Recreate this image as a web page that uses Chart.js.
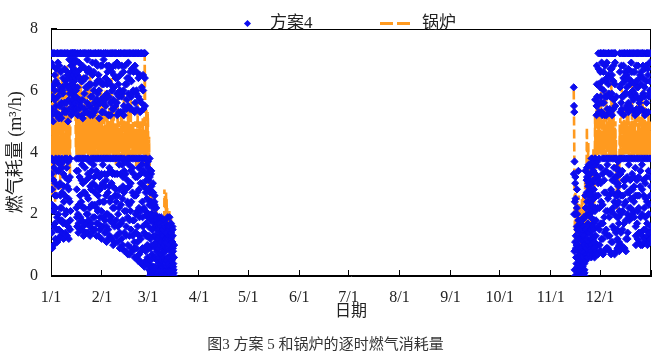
<!DOCTYPE html>
<html><head><meta charset="utf-8">
<script src="https://cdn.jsdelivr.net/npm/chart.js@4.4.1/dist/chart.umd.min.js"></script>
<style>
html,body{margin:0;padding:0;background:#fff;}
#wrap{position:relative;width:657px;height:356px;}
#legend{position:absolute;left:0;top:0;width:657px;height:40px;pointer-events:none;font-family:'Liberation Serif','Noto Sans CJK SC',serif;font-size:17px;color:#222;}
.lg-text{position:absolute;top:12px;line-height:22px;white-space:nowrap;}
.lg-diamond{position:absolute;width:5px;height:5px;transform:rotate(45deg);}
.lg-dash{position:absolute;height:3px;}
</style></head><body>
<div id="wrap"><canvas id="c"></canvas><div id="legend"></div></div>
<script>
// ---- data ----
const monthLabels = ['1/1','2/1','3/1','4/1','5/1','6/1','7/1','8/1','9/1','10/1','11/1','12/1',''];
const monthStartDays = [0,31,59,90,120,151,181,212,243,273,304,334,365];
const schemeHours = [0,4,8,12,16,20,2,6,10,14,18,22];
const boilerHours = [0,4,8,12,16,20];
const seriesNames = ['方案4','锅炉'];
const springStartDay = 0;    // 1/1
const autumnStartDay = 318;  // 11/15

// 方案4 hourly gas use (m3/h), one row per day, values at schemeHours
const schemeSpring = [
[7.2,6.1,5.4,3.8,2.3,0.9,6.9,5.2,3.3,1.4,2.8,7.2],
[6.8,7.2,5.0,3.1,1.6,3.7,5.8,7.2,2.1,1.0,3.5,6.2],
[7.2,5.7,6.5,2.6,1.2,3.8,7.2,6.0,1.7,3.0,2.2,5.3],
[6.3,7.2,5.2,3.4,1.9,1.1,5.5,6.7,2.6,3.7,1.5,7.2],
[7.2,6.9,5.8,2.9,3.8,1.5,6.2,7.2,2.0,3.4,1.2,5.1],
[7.2,6.0,5.5,3.6,2.2,1.3,6.8,5.2,1.8,3.0,2.6,7.2],
[6.6,7.2,5.1,3.8,1.8,2.7,7.2,5.6,2.2,3.5,1.4,6.1],
[7.2,5.9,6.4,3.3,1.2,2.4,6.0,7.2,1.7,3.7,2.9,5.4],
[7.2,6.7,5.3,3.8,2.0,1.4,5.6,7.2,2.6,3.2,1.7,6.3],
[6.2,7.2,5.6,3.5,1.7,2.9,7.2,5.3,2.1,3.8,1.3,6.6],
[7.2,6.5,5.0,3.7,2.5,1.2,6.1,7.2,1.6,3.1,2.8,5.7],
[7.2,7.0,5.9,3.2,1.5,2.1,5.4,6.4,2.4,3.8,1.8,7.2],
[7.2,6.8,6.2,5.6,7.2,6.4,6.0,7.2,5.2,6.6,5.9,7.0],
[7.2,7.2,6.5,5.3,6.9,7.2,6.2,5.7,7.2,6.0,5.5,6.7],
[7.2,6.3,7.2,5.8,6.6,7.0,5.4,7.2,6.1,6.9,5.6,6.4],
[7.2,6.0,5.4,3.8,2.8,1.6,5.8,7.2,2.2,3.4,1.9,6.5],
[7.2,6.6,5.2,3.4,1.4,2.3,6.1,7.2,2.0,3.8,1.7,5.6],
[6.9,7.2,5.7,3.8,2.6,1.9,5.4,6.4,3.2,1.5,2.3,7.2],
[7.2,5.5,6.3,3.1,1.5,3.6,6.7,7.2,2.4,3.8,1.8,5.2],
[7.2,6.8,5.1,3.8,2.2,1.3,5.7,6.3,3.0,1.6,2.7,7.2],
[6.4,7.2,5.9,2.7,3.5,1.7,7.2,5.4,2.2,3.8,1.4,6.7],
[7.2,6.1,5.3,3.8,2.0,1.4,6.4,7.2,3.1,1.7,2.6,5.6],
[7.2,7.0,6.6,3.3,2.5,1.8,5.3,6.1,2.0,3.8,1.4,7.2],
[6.7,7.2,5.5,3.7,1.6,2.9,7.2,6.2,3.2,2.2,1.3,5.2],
[7.2,5.8,6.2,3.8,2.3,1.4,6.6,7.2,2.8,1.7,3.4,5.4],
[7.2,6.5,5.2,3.0,1.9,3.6,5.8,6.9,2.3,3.8,1.5,7.2],
[6.0,7.2,5.6,3.8,2.7,1.5,6.6,5.3,3.2,1.9,2.3,7.2],
[7.2,6.9,5.4,3.4,1.3,2.2,6.2,7.2,2.9,3.8,1.7,5.7],
[7.2,6.3,5.9,3.8,2.6,1.7,5.5,6.8,2.1,3.3,1.3,7.2],
[6.5,7.2,5.1,3.2,1.5,2.8,7.2,6.0,3.8,2.4,1.9,5.6],
[7.2,5.7,6.8,3.8,2.1,1.2,6.3,7.2,2.9,1.6,3.3,5.3],
[7.2,6.2,5.3,3.6,2.4,1.6,6.8,5.6,3.0,1.9,3.8,7.2],
[7.0,7.2,5.8,3.8,1.4,2.9,6.2,5.3,2.4,3.3,1.8,7.2],
[7.2,6.4,5.5,3.1,2.0,1.1,5.7,7.2,2.6,3.8,1.6,6.8],
[7.2,5.9,6.6,3.8,2.7,1.5,6.2,7.2,3.3,2.0,1.2,5.2],
[6.3,7.2,5.2,3.5,1.8,2.4,5.8,6.8,2.9,3.8,1.3,7.2],
[7.2,6.7,5.6,3.8,1.2,3.0,6.2,5.2,2.5,3.4,1.9,7.2],
[7.2,6.0,5.4,2.9,2.2,1.0,6.6,7.2,3.3,1.7,3.8,5.7],
[6.8,7.2,6.1,3.8,1.6,2.6,5.4,6.5,2.2,3.3,1.1,7.2],
[7.2,5.5,6.4,3.3,2.4,1.3,6.8,7.2,2.8,3.8,1.8,5.9],
[7.2,6.9,5.2,3.8,1.1,2.0,5.6,6.4,3.3,2.6,1.6,7.2],
[6.2,7.2,5.8,3.6,2.8,0.9,6.8,5.3,2.2,3.8,1.4,7.2],
[7.2,6.5,5.3,3.8,1.7,1.2,6.0,7.2,3.3,2.3,0.9,5.8],
[7.2,5.9,3.8,2.5,1.0,3.2,6.8,5.3,3.6,1.8,2.9,7.2],
[6.6,7.2,5.5,3.4,1.4,2.1,6.0,5.2,2.7,3.8,0.8,7.2],
[7.2,6.2,3.7,2.8,0.8,1.6,6.8,7.2,3.3,1.3,2.1,5.4],
[7.2,5.7,6.4,3.8,1.9,1.0,6.2,7.2,3.1,2.4,0.7,5.5],
[6.9,7.2,3.6,2.3,1.3,0.7,5.9,6.4,3.8,2.9,1.8,7.2],
[7.2,5.4,3.8,3.0,1.5,2.4,6.6,7.2,2.1,3.4,0.9,5.8],
[6.3,7.2,5.9,3.5,0.8,1.8,5.4,6.7,3.8,2.7,1.3,7.2],
[7.2,6.6,3.8,2.6,1.1,0.6,6.0,7.2,3.3,1.8,0.9,5.3],
[7.2,5.6,3.2,2.0,1.4,0.9,6.8,7.2,3.8,2.6,0.6,5.9],
[6.0,7.2,3.8,2.7,1.6,0.5,6.6,5.4,3.2,2.1,1.1,7.2],
[7.2,6.4,3.5,2.2,0.7,1.9,5.8,7.2,3.8,2.8,1.3,0.5],
[5.7,7.2,3.8,3.0,1.2,0.4,6.5,5.3,3.3,2.1,0.8,7.2],
[7.2,6.1,3.6,2.4,0.9,1.6,5.6,7.2,3.8,3.0,1.9,0.4],
[6.5,7.2,3.8,2.9,1.4,0.3,6.0,5.4,3.4,2.2,0.9,7.2],
[7.2,5.5,3.3,2.1,0.8,1.7,6.4,7.2,3.8,2.7,1.3,0.5],
[3.8,3.1,2.5,1.3,0.4,1.9,3.6,2.8,2.0,1.0,0.6,3.3],
[3.7,2.8,1.6,0.9,0.2,2.3,3.5,3.1,2.0,1.3,0.5,0.0],
[3.8,2.4,1.2,0.5,0.1,3.3,3.2,2.7,1.8,0.9,0.3,2.0],
[3.4,2.0,1.5,0.7,0.0,2.7,2.9,2.4,1.0,0.3,1.8,0.1],
[3.0,2.2,1.0,0.3,0.0,1.7,2.7,1.9,1.3,0.6,0.1,2.4],
[2.6,1.8,1.3,0.6,0.1,0.9,2.3,2.0,1.6,0.3,0.0,1.1],
[2.2,1.5,0.8,0.2,0.0,1.1,1.9,1.8,1.2,0.5,0.1,0.9],
[1.9,1.2,0.6,0.1,0.0,1.6,1.7,1.5,0.9,0.3,0.2,1.3],
[1.7,1.0,0.4,0.0,0.2,1.4,1.9,1.4,0.7,0.2,0.0,1.1],
[1.9,1.3,0.7,0.1,0.0,0.9,1.6,1.1,0.5,0.3,0.0,1.4],
[1.5,0.8,0.3,0.0,0.1,1.2,1.8,1.3,0.6,0.2,0.0,1.0],
[1.8,1.1,0.5,0.0,0.2,1.6,1.6,1.2,0.8,0.3,0.0,1.4],
[1.4,0.9,0.2,0.0,0.1,0.6,1.7,1.2,0.5,0.3,0.0,1.1],
[1.9,1.2,0.6,0.1,0.0,1.5,1.6,0.9,0.4,0.2,0.0,1.3],
[1.6,1.0,0.3,0.0,0.1,0.8,1.9,1.3,0.6,0.2,0.0,1.2],
[1.7,1.3,0.5,0.0,0.2,1.1,1.4,0.9,0.7,0.3,0.0,1.6],
[1.5,0.9,0.3,0.0,0.1,0.6,1.3,0.8,0.4,0.2,0.0,1.0]
];
const schemeAutumn = [
[6.1,5.5,5.3,3.7,2.4,1.1,3.3,2.0,0.8,0.2,0.0,3.0],
[3.2,2.0,0.9,0.0,0.4,1.6,2.5,1.3,0.6,0.2,1.0,2.2],
[2.8,1.5,0.6,0.0,0.2,3.4,2.0,1.0,0.3,0.0,0.8,1.8],
[1.8,1.2,0.4,0.0,0.7,1.5,1.5,0.9,0.2,0.1,0.5,1.7],
[1.7,0.9,0.3,0.1,0.0,1.3,1.4,0.7,0.2,0.0,0.6,1.8],
[1.8,1.1,0.5,0.0,0.2,0.8,1.5,0.8,0.3,0.1,0.6,1.6],
[1.6,1.3,0.6,0.2,0.0,1.0,1.9,1.0,0.4,0.1,0.8,1.5],
[2.6,1.9,1.2,0.5,0.9,3.1,3.4,2.2,1.5,0.7,0.6,2.7],
[3.5,2.4,1.4,0.7,1.0,2.9,3.2,2.0,1.2,0.6,1.7,3.0],
[3.3,2.2,1.6,0.8,1.1,2.7,3.6,2.6,1.4,0.7,2.0,3.1],
[3.6,2.8,1.9,1.0,0.6,2.3,3.3,2.4,1.5,0.8,1.2,3.8],
[3.8,3.0,2.1,1.3,0.7,1.7,3.5,2.6,1.6,0.9,1.2,3.1],
[3.4,2.5,1.5,0.9,0.6,3.8,3.7,2.8,1.8,1.1,0.7,2.1],
[5.7,3.8,2.6,1.8,0.8,5.2,3.3,2.2,1.3,0.7,3.6,5.5],
[6.8,5.5,3.7,2.2,1.0,3.0,6.2,5.8,3.2,1.6,0.7,2.6],
[7.2,6.2,5.3,3.8,1.5,0.8,6.7,5.6,3.1,2.2,1.0,7.2],
[7.2,6.6,5.8,3.5,2.4,1.2,6.1,7.2,3.0,1.7,0.8,5.3],
[6.9,7.2,5.2,3.8,1.7,0.7,5.6,6.3,3.3,2.3,1.2,7.2],
[7.2,6.0,5.6,3.1,2.7,1.4,6.6,7.2,3.8,1.9,0.8,5.2],
[7.2,6.8,6.3,3.8,2.1,0.9,5.8,7.2,2.7,3.4,1.5,5.2],
[6.4,7.2,5.4,3.6,1.3,2.5,6.9,5.8,3.8,2.1,0.9,7.2],
[7.2,6.5,5.9,3.8,1.9,0.8,6.2,7.2,2.6,3.3,1.3,5.4],
[7.2,5.8,6.7,3.3,2.8,1.1,6.4,5.3,3.8,2.1,0.7,7.2],
[6.7,7.2,5.2,3.8,1.6,2.2,5.9,6.5,3.1,2.7,1.1,7.2],
[7.2,6.3,5.7,3.5,2.4,0.7,6.8,5.4,3.8,2.0,1.5,7.2],
[7.2,6.9,5.5,3.8,1.4,3.0,6.2,7.2,3.2,2.6,0.8,5.8],
[3.8,3.2,2.3,1.5,0.9,2.7,3.5,2.6,1.9,1.2,0.9,3.0],
[3.7,2.9,1.9,1.1,0.8,3.4,3.4,2.4,1.7,1.0,3.8,2.1],
[7.2,6.1,5.3,3.8,2.0,1.0,6.6,7.2,3.3,2.6,1.4,5.6],
[6.8,7.2,5.8,3.4,1.5,2.6,6.2,5.4,3.8,2.1,0.9,7.2],
[7.2,6.4,5.2,3.8,2.3,0.9,5.8,6.8,3.1,1.7,2.9,7.2],
[7.2,5.9,6.6,3.1,1.8,1.2,6.3,7.2,3.8,2.4,0.8,5.4],
[6.5,7.2,5.5,3.8,2.7,1.4,5.9,6.1,3.2,2.0,1.2,7.2],
[7.2,6.7,5.3,3.6,2.2,1.8,6.4,5.6,3.8,2.7,1.9,7.2],
[7.2,6.2,5.9,3.8,2.5,1.9,5.5,7.2,3.1,2.2,2.8,6.6],
[6.9,7.2,5.4,3.3,2.0,2.8,6.3,5.8,3.8,2.5,1.9,7.2],
[7.2,6.0,5.7,3.8,2.4,1.9,6.6,7.2,3.2,2.1,2.9,5.3],
[7.2,6.6,5.2,3.5,1.6,1.0,5.9,6.2,3.8,2.6,1.3,7.2],
[6.3,7.2,5.8,3.8,2.1,1.2,6.8,5.4,3.1,1.7,2.6,7.2],
[7.2,6.8,5.3,3.2,1.4,2.6,6.1,7.2,3.8,2.2,1.1,5.6],
[7.2,5.7,6.5,3.8,1.9,1.0,5.4,6.4,2.9,3.4,1.4,7.2],
[6.6,7.2,5.4,3.6,2.8,1.3,6.2,5.8,3.8,2.0,1.0,7.2],
[7.2,6.4,5.9,3.8,1.5,2.2,6.8,7.2,3.1,2.6,1.2,5.3],
[7.2,6.1,5.2,3.0,1.1,2.5,5.8,6.7,3.8,1.9,1.5,7.2],
[6.8,7.2,5.6,3.8,1.7,1.0,6.3,5.3,3.2,2.4,1.3,7.2],
[7.2,6.5,5.3,3.4,2.3,1.4,6.7,7.2,3.8,2.0,1.1,5.8],
[7.2,6.9,6.0,3.8,1.2,2.9,5.9,6.3,3.2,2.6,1.6,7.2]
];
// 锅炉 hourly gas use (m3/h), values at boilerHours
const boilerSpring = [
[4.9,4.1,5.6,3.9,2.6,4.6],[4.4,6.3,4.0,3.2,4.8,4.2],[5.0,4.3,3.9,2.4,4.5,4.1],[4.7,6.0,4.2,3.8,5.1,4.0],
[4.5,4.0,6.6,4.3,3.9,4.9],[4.1,5.0,4.4,3.9,2.8,4.6],[5.2,4.2,4.8,3.9,6.4,4.3],[4.0,4.7,4.1,5.0,3.5,4.4],
[4.8,5.9,4.0,4.5,3.9,5.1],[4.2,4.6,3.9,6.8,4.1,4.7],[5.0,4.0,4.4,3.9,5.5,4.2],[4.3,4.9,4.0,3.3,4.6,5.4],
[6.4,5.6,7.0,5.9,6.7,5.4],[6.1,6.9,5.5,6.5,5.8,7.1],[5.7,6.6,6.0,5.3,6.8,5.9],[4.8,4.1,5.7,3.9,4.5,4.0],
[4.3,4.9,3.9,4.6,6.2,4.1],[5.0,4.0,4.7,3.9,4.4,5.3],[4.2,6.5,4.1,4.8,3.9,4.6],[4.9,4.0,4.5,3.7,5.1,4.3],
[4.1,4.8,3.9,5.8,4.4,4.0],[5.1,4.2,4.6,3.9,4.9,4.1],[4.4,6.1,4.0,4.7,3.8,5.0],[4.0,4.6,4.9,3.9,4.3,6.7],
[4.8,4.1,5.3,4.0,4.6,3.9],[4.5,5.0,3.9,4.4,6.0,4.2],[4.1,4.7,4.0,5.2,3.9,4.8],[5.0,3.9,4.6,4.1,5.6,4.3],
[4.3,5.8,4.0,4.9,3.9,4.5],[4.7,4.1,5.1,3.9,4.4,4.0],[4.2,4.9,3.9,6.3,4.6,4.1],[5.0,4.0,4.5,3.9,4.8,5.5],
[4.1,4.7,4.0,5.1,3.9,4.4],[4.6,6.0,4.2,4.0,4.9,3.8],[4.0,4.5,5.2,3.9,4.3,4.8],[4.9,4.1,4.6,5.7,3.9,4.2],
[4.3,5.0,3.9,4.4,4.0,6.4],[4.7,4.0,4.8,3.9,5.1,4.1],[4.1,5.4,4.0,4.6,3.9,4.9],[5.0,4.2,4.5,3.6,4.7,4.0],
[4.4,4.9,3.9,5.9,4.1,4.6],[4.0,4.6,5.0,3.9,4.3,4.0],[4.8,4.1,4.4,3.8,5.3,4.2],[4.3,5.1,3.9,4.7,4.0,4.5],
[4.9,4.0,6.1,3.9,4.4,4.1],[4.2,4.7,4.0,5.0,3.7,4.6],[4.6,4.0,4.9,3.9,4.2,5.5],[4.0,5.2,4.3,3.8,4.8,4.1],
[4.7,4.1,4.5,6.0,3.9,4.4],[4.3,4.9,3.9,4.6,4.0,5.0],[4.8,4.0,4.4,3.8,4.7,4.1],[4.1,5.0,3.9,4.5,4.2,3.5],
[4.6,4.0,4.8,3.9,5.6,4.2],[4.0,4.7,4.1,3.6,4.4,4.9],[4.5,3.9,5.0,4.1,3.7,4.6],[4.2,4.8,3.9,4.4,4.0,5.1],
[4.7,4.0,4.5,3.5,4.3,3.9],[7.1,6.0,4.8,3.9,4.4,4.1],[5.4,4.6,3.9,4.8,3.6,5.3],[4.9,3.8,3.2,2.6,4.5,3.5],
[3.9,2.8,3.3,2.4,3.0,2.6],[3.0,2.5,2.9,2.2,2.7,2.0],[2.8,2.2,2.6,1.9,2.4,1.7],[2.6,1.9,2.3,1.5,2.1,1.6],
[2.2,1.6,2.0,1.4,1.8,1.2],[1.9,1.4,1.7,1.1,1.5,1.3],[1.7,1.2,1.6,0.9,1.4,1.0],[1.8,1.3,1.5,1.0,1.6,1.1],
[1.6,1.1,1.4,0.8,1.3,0.9],[2.8,2.2,2.6,1.8,1.5,1.2],[2.7,1.9,2.5,1.6,2.2,1.4],[1.9,1.4,1.7,1.0,1.5,1.2],
[2.1,1.5,1.9,1.2,1.7,1.1],[1.9,1.3,1.6,0.9,1.4,0.8],[1.7,1.2,1.4,0.7,1.0,0.4]
];
const boilerAutumn = [
[6.0,5.2,4.1,2.6,1.8,1.2],[2.7,1.9,1.2,0.8,1.5,2.2],[2.4,1.7,1.0,0.6,1.3,2.0],[2.6,1.8,1.1,0.7,1.4,1.9],
[2.3,1.6,1.0,0.5,1.2,2.1],[2.5,1.8,1.2,0.7,1.5,2.7],[2.2,1.6,1.1,0.6,1.3,2.4],[3.2,2.6,1.9,1.3,2.2,3.6],
[4.8,3.9,3.2,2.4,3.5,4.3],[3.8,3.1,2.5,1.8,2.8,3.4],[3.6,2.9,2.2,1.7,2.6,3.3],[3.9,3.2,2.6,2.0,2.9,3.5],
[4.1,3.4,2.8,2.1,3.1,3.8],[5.2,4.3,3.9,3.0,4.6,4.0],[5.6,4.8,4.0,3.9,4.5,5.0],[4.9,4.1,5.7,3.9,4.4,4.0],
[4.3,5.0,3.9,4.6,6.2,4.1],[5.1,4.0,4.7,3.9,4.4,4.9],[4.2,4.8,4.0,5.4,3.9,4.5],[4.9,4.1,4.6,3.9,6.0,4.2],
[4.0,5.0,4.3,3.8,4.7,4.1],[4.6,4.0,5.3,3.9,4.4,5.0],[4.1,4.8,3.9,4.5,4.0,6.5],[5.0,4.2,4.6,3.9,4.9,4.1],
[4.4,5.6,4.0,4.7,3.9,4.5],[4.8,4.1,5.0,3.7,4.4,3.2],[3.0,2.5,3.4,2.1,2.8,3.5],[3.3,2.7,3.6,2.3,3.1,3.9],
[4.9,4.2,5.1,3.9,4.6,4.0],[4.3,6.1,4.0,4.8,3.9,4.5],[5.0,4.1,4.6,3.9,5.5,4.2],[4.2,4.9,3.9,4.4,4.0,5.0],
[4.7,4.0,5.2,3.9,4.5,4.1],[4.4,5.7,4.1,4.8,3.9,4.6],[5.0,4.0,4.5,3.8,4.9,4.2],[4.1,4.7,3.9,6.3,4.3,4.0],
[4.8,4.2,5.0,3.9,4.5,4.1],[4.3,5.1,4.0,4.6,3.9,5.4],[4.9,4.0,4.7,3.9,4.4,4.2],[4.2,5.8,4.1,4.9,3.9,4.6],
[5.0,4.1,4.4,3.9,5.2,4.0],[4.4,4.8,3.9,4.6,4.1,6.0],[4.7,4.0,5.1,3.9,4.3,4.9],[4.1,5.5,4.2,4.8,3.9,4.4],
[5.0,4.0,4.6,3.9,4.9,4.2],[4.3,4.9,4.0,5.3,3.9,4.5],[4.8,4.1,4.7,3.9,4.4,5.0]
];

// ---- build point lists (x = day of year + hour/24) ----
function toPoints(startDay, rows, hours) {
  const pts = [];
  rows.forEach((row, d) => row.forEach((v, k) => pts.push({x: startDay + d + hours[k] / 24, y: v})));
  return pts;
}
const schemePoints = toPoints(springStartDay, schemeSpring, schemeHours)
  .concat(toPoints(autumnStartDay, schemeAutumn, schemeHours));
const springEndDay = springStartDay + boilerSpring.length;
const boilerPoints = toPoints(springStartDay, boilerSpring, boilerHours)
  .concat([{x: (springEndDay + autumnStartDay) / 2, y: null}])
  .concat(toPoints(autumnStartDay, boilerAutumn, boilerHours));

const BLUE = 'rgb(12,12,238)';
const ORANGE = '#FF9A1F';
const SERIF = "'Liberation Serif', 'Noto Sans CJK SC', serif";
Chart.defaults.font.family = SERIF;
Chart.defaults.color = '#222';

const framePlugin = {
  id: 'frame',
  beforeDatasetsDraw(chart) {
    const {ctx, chartArea: a} = chart;
    ctx.save();
    ctx.strokeStyle = '#000';
    ctx.lineWidth = 1;
    ctx.strokeRect(Math.round(a.left) + 0.5, Math.round(a.top) + 0.5,
                   Math.round(a.right - a.left) - 1, Math.round(a.bottom - a.top) - 1);
    ctx.restore();
  }
};

const chart = new Chart(document.getElementById('c'), {
  type: 'scatter',
  data: {
    datasets: [
      {
        label: seriesNames[0], data: schemePoints, order: 0,
        showLine: false, pointStyle: 'rectRot', pointRadius: 3.6, pointBorderWidth: 1,
        backgroundColor: BLUE, borderColor: BLUE
      },
      {
        label: seriesNames[1], data: boilerPoints, order: 1,
        showLine: true, spanGaps: false, pointRadius: 0, borderColor: ORANGE, backgroundColor: ORANGE,
        borderWidth: 2.6, borderDash: [9, 4], borderJoinStyle: 'bevel', borderCapStyle: 'butt', tension: 0
      }
    ]
  },
  options: {
    responsive: true, maintainAspectRatio: false, animation: false, devicePixelRatio: 1, events: [],
    layout: { padding: { top: 11, right: 6, left: 0, bottom: 0 } },
    scales: {
      x: {
        type: 'linear', min: 0, max: 365,
        afterBuildTicks: (s) => { s.ticks = monthStartDays.map(v => ({value: v})); },
        afterFit: (s) => { s.height = 60; s.paddingLeft = 0; s.paddingRight = 0; },
        ticks: { autoSkip: false, maxRotation: 0, padding: 18, font: {family: SERIF, size: 16}, color: '#222',
                 callback: (v, i) => monthLabels[i] },
        grid: { drawOnChartArea: false, drawTicks: true, tickLength: -6, color: '#000' },
        border: { color: '#000', width: 1 },
        title: { display: true, text: '日期', font: {family: SERIF, size: 16}, color: '#222', padding: {top: 0, bottom: 14.4} }
      },
      y: {
        min: 0, max: 8,
        afterFit: (s) => { s.width = 51; },
        ticks: { stepSize: 2, padding: 19, font: {family: SERIF, size: 16}, color: '#222' },
        grid: { drawOnChartArea: false, drawTicks: true, tickLength: -6, color: '#000' },
        border: { color: '#000', width: 1 },
        title: { display: true, text: '燃气耗量 (m³/h)', font: {family: SERIF, size: 18}, color: '#222', padding: {top: 5, bottom: 0} }
      }
    },
    plugins: {
      legend: { display: false },
      tooltip: { enabled: false },
      title: { display: true, position: 'bottom', text: '图3 方案 5 和锅炉的逐时燃气消耗量',
               font: {family: SERIF, size: 15, weight: 'normal'}, color: '#333', padding: {top: 0, bottom: 2} }
    }
  },
  plugins: [framePlugin]
});

// ---- HTML legend built from the datasets ----
(function buildLegend() {
  const lg = document.getElementById('legend');
  const ds = chart.data.datasets;
  const d = document.createElement('div');
  d.className = 'lg-diamond'; d.style.left = '244.5px'; d.style.top = '20.5px'; d.style.background = ds[0].backgroundColor;
  lg.appendChild(d);
  const t1 = document.createElement('div');
  t1.className = 'lg-text'; t1.style.left = '270px'; t1.textContent = ds[0].label;
  lg.appendChild(t1);
  [380, 397].forEach(x => {
    const s = document.createElement('div');
    s.className = 'lg-dash'; s.style.left = x + 'px'; s.style.top = '21.5px'; s.style.width = '13px';
    s.style.background = ds[1].borderColor;
    lg.appendChild(s);
  });
  const t2 = document.createElement('div');
  t2.className = 'lg-text'; t2.style.left = '422px'; t2.textContent = ds[1].label;
  lg.appendChild(t2);
})();
</script></body></html>
